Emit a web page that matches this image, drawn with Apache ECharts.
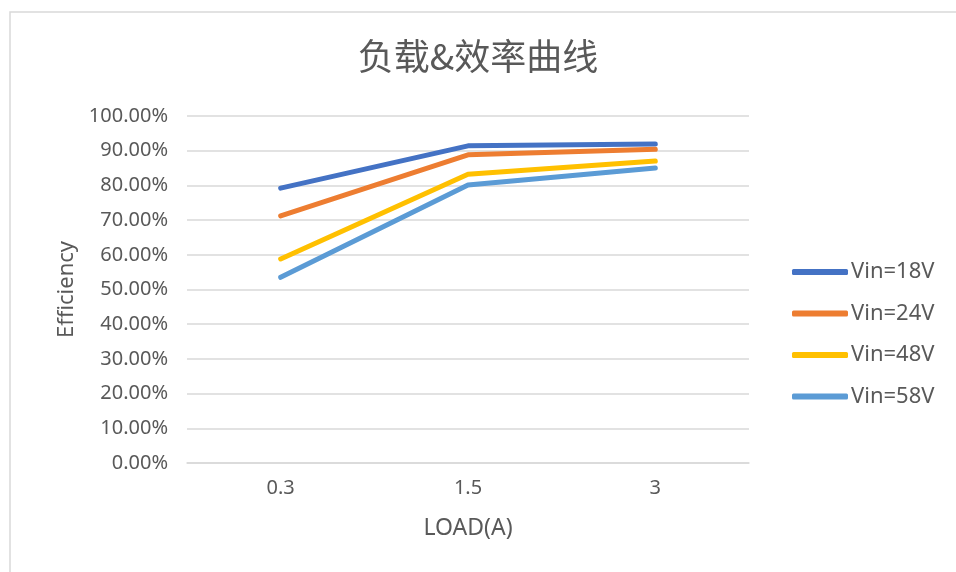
<!DOCTYPE html>
<html>
<head>
<meta charset="utf-8">
<script src="https://cdn.jsdelivr.net/npm/echarts@6/dist/echarts.min.js"></script>
<style>
  html, body { margin: 0; padding: 0; background: #fff; }
  #chart { width: 956px; height: 572px; }
</style>
</head>
<body>
<div id="chart"></div>
<script>
// Load current (A) on the category axis
const loads = ['0.3', '1.5', '3'];

// Efficiency (fraction) per input voltage
const vin18 = [0.792, 0.914, 0.919];
const vin24 = [0.712, 0.888, 0.904];
const vin48 = [0.588, 0.832, 0.870];
const vin58 = [0.535, 0.801, 0.850];

const seriesNames = ['Vin=18V', 'Vin=24V', 'Vin=48V', 'Vin=58V'];
const seriesData = [vin18, vin24, vin48, vin58];
const colors = ['#4472C4', '#ED7D31', '#FFC000', '#5B9BD5'];

const textColor = '#595959';
const gridColor = '#d9d9d9';
const latinFont = '"Noto Sans", "Noto Sans CJK SC", sans-serif';
const cjkFont = '"Noto Sans CJK SC", "Noto Sans", sans-serif';

const chart = echarts.init(document.getElementById('chart'), null, { renderer: 'canvas' });

chart.setOption({
  backgroundColor: '#ffffff',
  animation: false,
  title: {
    text: '负载&效率曲线',
    left: 'center',
    top: 33,
    textStyle: { fontSize: 36, fontWeight: 'normal', color: textColor, fontFamily: cjkFont }
  },
  graphic: [{
    type: 'rect',
    shape: { x: 10, y: 12, width: 960, height: 580 },
    style: { fill: 'none', stroke: gridColor, lineWidth: 1.5 },
    silent: true
  }],
  legend: {
    orient: 'vertical',
    left: 787,
    top: 256,
    itemWidth: 56,
    itemHeight: 6,
    itemGap: 19.5,
    icon: 'roundRect',
    textStyle: { fontSize: 22, color: textColor, fontFamily: latinFont, padding: [0, 0, 0, -2] },
    data: seriesNames
  },
  grid: { left: 187, right: 207, top: 116, bottom: 109 },
  xAxis: {
    type: 'category',
    data: loads,
    boundaryGap: true,
    name: 'LOAD(A)',
    nameLocation: 'middle',
    nameGap: 54,
    nameTextStyle: { fontSize: 23, color: textColor, fontFamily: latinFont },
    axisLine: { lineStyle: { color: gridColor, width: 1.5 } },
    axisTick: { show: false },
    axisLabel: { fontSize: 20, color: textColor, margin: 15, fontFamily: latinFont }
  },
  yAxis: {
    type: 'value',
    min: 0,
    max: 1,
    interval: 0.1,
    name: 'Efficiency',
    nameLocation: 'middle',
    nameGap: 108,
    nameRotate: 90,
    nameTextStyle: { fontSize: 22, color: textColor, fontFamily: latinFont },
    axisLine: { show: false },
    axisTick: { show: false },
    splitLine: { lineStyle: { color: gridColor, width: 1.5 } },
    axisLabel: {
      fontSize: 20,
      color: textColor,
      margin: 19,
      fontFamily: latinFont,
      formatter: v => (v * 100).toFixed(2) + '%'
    }
  },
  series: seriesNames.map((name, i) => ({
    name: name,
    type: 'line',
    data: seriesData[i],
    symbol: 'none',
    color: colors[i],
    lineStyle: { width: 5, color: colors[i], cap: 'round', join: 'round' }
  }))
});
</script>
</body>
</html>
